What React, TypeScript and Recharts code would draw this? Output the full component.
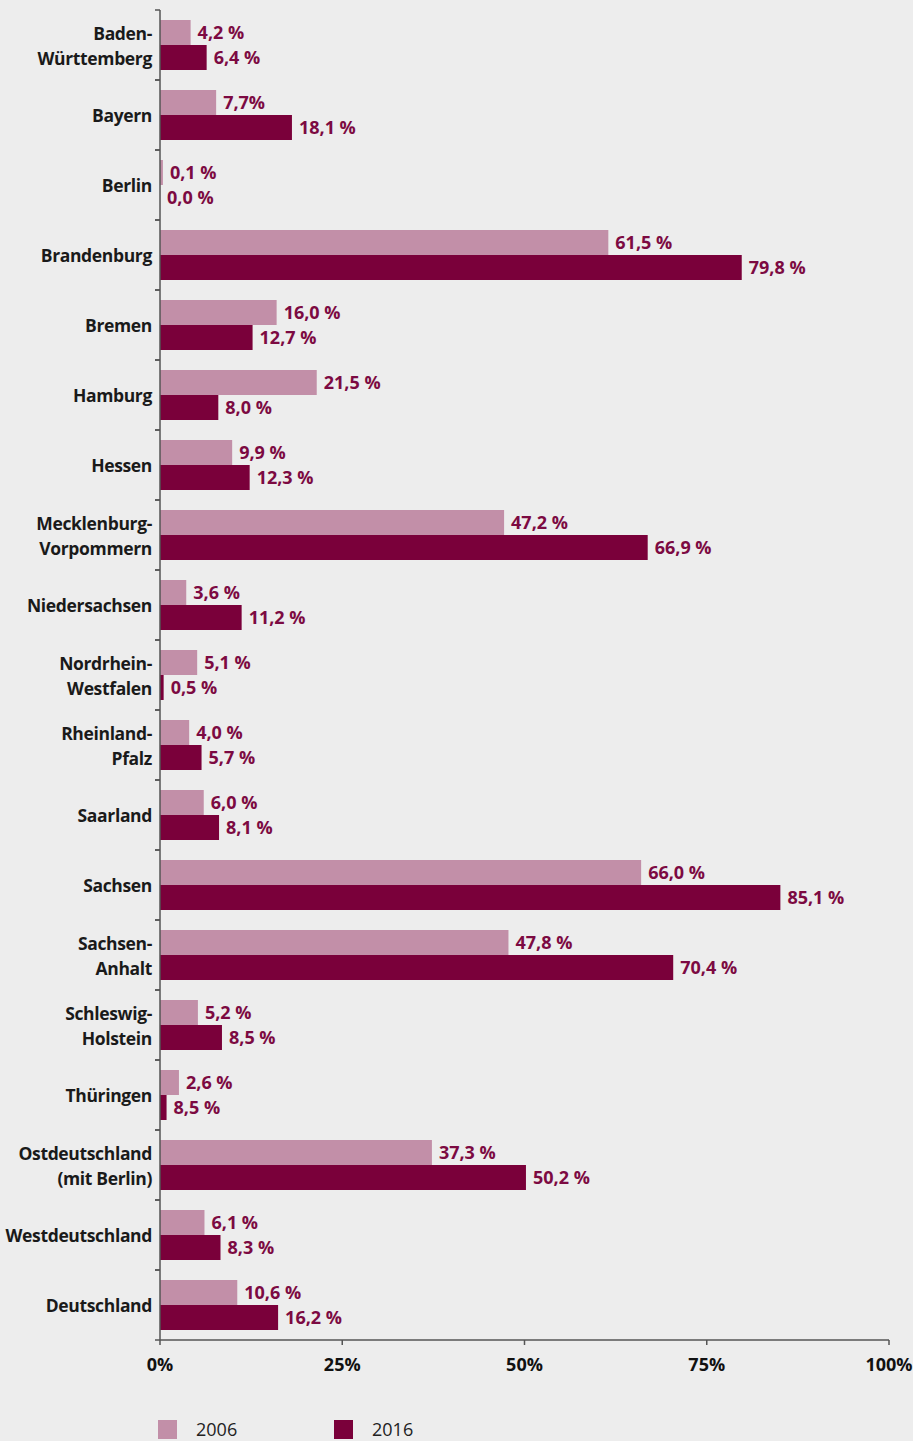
import React from 'react';
import { BarChart, Bar, XAxis, YAxis, LabelList } from 'recharts';

const states = [
  'Baden-\nWürttemberg', 'Bayern', 'Berlin', 'Brandenburg', 'Bremen', 'Hamburg', 'Hessen',
  'Mecklenburg-\nVorpommern', 'Niedersachsen', 'Nordrhein-\nWestfalen', 'Rheinland-\nPfalz',
  'Saarland', 'Sachsen', 'Sachsen-\nAnhalt', 'Schleswig-\nHolstein', 'Thüringen',
  'Ostdeutschland\n(mit Berlin)', 'Westdeutschland', 'Deutschland',
];

// bar lengths as drawn in the picture (%); Berlin 2016 is a hairline so its label still shows
const share2006 = [4.2, 7.7, 0.4, 61.5, 16.0, 21.5, 9.9, 47.2, 3.6, 5.1, 4.0, 6.0, 66.0, 47.8, 5.2, 2.6, 37.3, 6.1, 10.6];
const share2016 = [6.4, 18.1, 0.01, 79.8, 12.7, 8.0, 12.3, 66.9, 11.2, 0.5, 5.7, 8.1, 85.1, 70.4, 8.5, 0.9, 50.2, 8.3, 16.2];

// printed labels
const labels2006 = ['4,2 %', '7,7%', '0,1 %', '61,5 %', '16,0 %', '21,5 %', '9,9 %', '47,2 %', '3,6 %', '5,1 %', '4,0 %', '6,0 %', '66,0 %', '47,8 %', '5,2 %', '2,6 %', '37,3 %', '6,1 %', '10,6 %'];
const labels2016 = ['6,4 %', '18,1 %', '0,0 %', '79,8 %', '12,7 %', '8,0 %', '12,3 %', '66,9 %', '11,2 %', '0,5 %', '5,7 %', '8,1 %', '85,1 %', '70,4 %', '8,5 %', '8,5 %', '50,2 %', '8,3 %', '16,2 %'];

const xTicks = [0, 25, 50, 75, 100];

const data = states.map((name, i) => ({
  name,
  v2006: share2006[i],
  v2016: share2016[i],
  l2006: labels2006[i],
  l2016: labels2016[i],
}));

const FONT = '"Open Sans", sans-serif';
const LIGHT = '#c28fa8';
const DARK = '#7a003a';
const LABEL = '#7c0a42';
const AXIS = '#555';

const StateTick = (props: any) => {
  const { y, payload } = props;
  const half = payload.offset ?? 35;
  const lines = String(payload.value).split('\n');
  const lh = 25;
  const start = y + 1 - ((lines.length - 1) * lh) / 2;
  return (
    <g>
      <line x1={155} x2={160} y1={y - half} y2={y - half} stroke={AXIS} strokeWidth={1.5} />
      <line x1={155} x2={160} y1={y + half} y2={y + half} stroke={AXIS} strokeWidth={1.5} />
      <text x={152} y={start} textAnchor="end" fontFamily={FONT} fontWeight={700} fontSize={17.5} letterSpacing={-0.35} fill="#1a1a1a">
        {lines.map((l, i) => (
          <tspan key={i} x={152} y={start + i * lh} dy="0.35em">{l}</tspan>
        ))}
      </text>
    </g>
  );
};

export default function App() {
  return (
    <div style={{ position: 'absolute', left: 0, top: 0, width: 913, height: 1441, background: '#ededed', overflow: 'hidden' }}>
      <BarChart
        width={913}
        height={1441}
        data={data}
        layout="vertical"
        margin={{ top: 10, right: 24, left: 0, bottom: 62 }}
        barGap={0}
        barSize={25}
      >
        <XAxis
          type="number"
          domain={[0, 100]}
          ticks={xTicks}
          tickFormatter={(v) => `${v}%`}
          height={39}
          stroke={AXIS}
          strokeWidth={1.5}
          tickSize={5}
          tickMargin={13}
          tick={{ fontFamily: FONT, fontWeight: 700, fontSize: 18, fill: '#111' }}
          interval={0}
        />
        <YAxis
          type="category"
          dataKey="name"
          width={160}
          stroke={AXIS}
          strokeWidth={1.5}
          tickLine={false}
          tick={<StateTick />}
          interval={0}
        />
        <Bar dataKey="v2006" fill={LIGHT} isAnimationActive={false}>
          <LabelList dataKey="l2006" position="right" offset={7} fill={LABEL} fontFamily={FONT} fontWeight={700} fontSize={18} />
        </Bar>
        <Bar dataKey="v2016" fill={DARK} isAnimationActive={false}>
          <LabelList dataKey="l2016" position="right" offset={7} fill={LABEL} fontFamily={FONT} fontWeight={700} fontSize={18} />
        </Bar>
      </BarChart>
      <div style={{ position: 'absolute', left: 158, top: 1420, width: 19, height: 19, background: LIGHT }} />
      <div style={{ position: 'absolute', left: 196, top: 1417, fontFamily: FONT, fontSize: 18, color: '#222', lineHeight: '24px' }}>2006</div>
      <div style={{ position: 'absolute', left: 334, top: 1420, width: 19, height: 19, background: DARK }} />
      <div style={{ position: 'absolute', left: 372, top: 1417, fontFamily: FONT, fontSize: 18, color: '#222', lineHeight: '24px' }}>2016</div>
    </div>
  );
}
